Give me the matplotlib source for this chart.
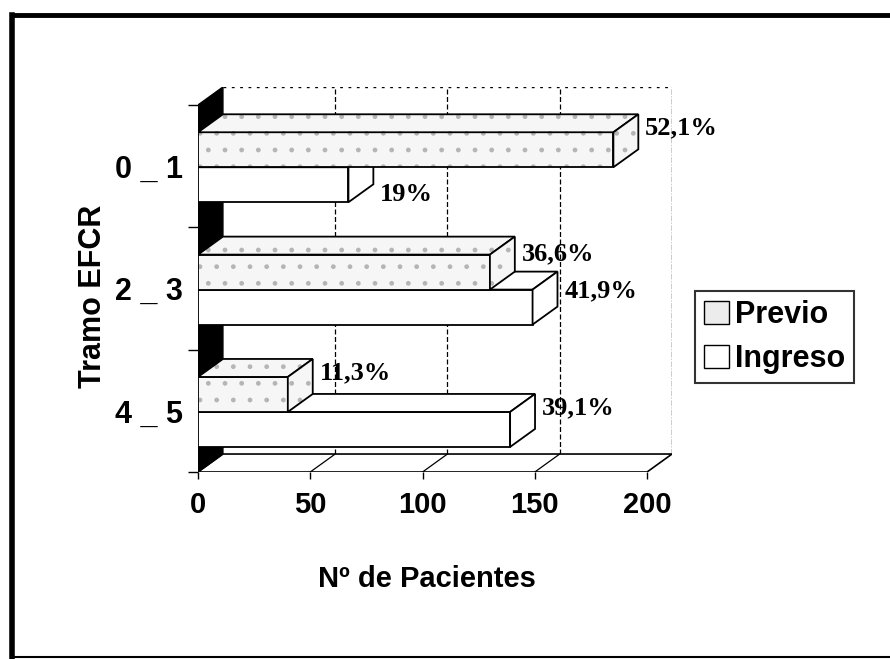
import matplotlib
matplotlib.use("Agg")
import matplotlib.pyplot as plt
from matplotlib.patches import Polygon, Patch
from matplotlib.lines import Line2D

# ---------------------------------------------------------------------------
# Data
# ---------------------------------------------------------------------------

CATEGORIES   = ["4 _ 5", "2 _ 3", "0 _ 1"]          # bottom -> top
PREVIO       = [40, 130, 185]
INGRESO      = [139, 149, 67]
PREVIO_PCT   = ["11,3%", "36,6%", "52,1%"]
INGRESO_PCT  = ["39,1%", "41,9%", "19%"]
X_TICKS      = [0, 50, 100, 150, 200]

# ---------------------------------------------------------------------------
# Style / fake-3D geometry
# ---------------------------------------------------------------------------

SANS   = "Liberation Sans"
SERIF  = "Liberation Serif"
DX     = 11.1      # depth offset in value units
DY     = 0.147     # depth offset in category units
BAR_H  = 0.286
BAR_Y0 = 0.205
XMAX   = 200
STIPPLE_FACE = "#f6f6f6"
STIPPLE_DOTS = "#b5b5b5"

# per-label nudges (category units) for the data labels
PREVIO_DY  = [0.03, 0.0, 0.03]
INGRESO_DY = [0.03, -0.01, -0.23]


def face(ax, pts, hatched, z):
    if hatched:
        ax.add_patch(Polygon(pts, closed=True, facecolor=STIPPLE_FACE,
                             edgecolor=STIPPLE_DOTS, lw=0, hatch=".", zorder=z))
        ax.add_patch(Polygon(pts, closed=True, facecolor="none",
                             edgecolor="black", lw=1.3, zorder=z))
    else:
        ax.add_patch(Polygon(pts, closed=True, facecolor="white",
                             edgecolor="black", lw=1.3, zorder=z))


def bar3d(ax, y0, v, hatched, z):
    y1 = y0 + BAR_H
    face(ax, [(0, y0), (v, y0), (v, y1), (0, y1)], hatched, z)
    face(ax, [(0, y1), (v, y1), (v + DX, y1 + DY), (DX, y1 + DY)], hatched, z)
    face(ax, [(v, y0), (v + DX, y0 + DY), (v + DX, y1 + DY), (v, y1)], hatched, z)


fig = plt.figure(figsize=(8.9, 6.59), dpi=100)
ax = fig.add_axes([198 / 890, 187 / 659, 474 / 890, 385 / 659])
ax.set_xlim(0, XMAX + DX)
ax.set_ylim(0, len(CATEGORIES) + DY)
for s in ax.spines.values():
    s.set_visible(False)

n = len(CATEGORIES)

# back wall + grid
ax.plot([DX, DX + XMAX], [n + DY, n + DY], color="black", lw=1, ls=(0, (2, 4)), zorder=1)
ax.plot([DX + XMAX, DX + XMAX], [DY, n + DY], color="black", lw=1, ls=(0, (4, 1, 1, 1)), zorder=1)
for t in X_TICKS[1:-1]:
    ax.plot([t + DX, t + DX], [DY, n + DY], color="black", lw=0.9, ls=(0, (4, 2)), zorder=1)

# floor
ax.add_patch(Polygon([(0, 0), (XMAX, 0), (XMAX + DX, DY), (DX, DY)], closed=True,
                     facecolor="white", edgecolor="black", lw=1.2, zorder=1))
for t in X_TICKS[1:-1]:
    ax.plot([t, t + DX], [0, DY], color="black", lw=0.9, zorder=1)

# dark left wall
ax.add_patch(Polygon([(0, 0), (DX, DY), (DX, n + DY), (0, n)], closed=True,
                     facecolor="black", edgecolor="black", lw=1, zorder=2))
ax.plot([0, 0], [0, n], color="black", lw=1.3, zorder=2)

# bars, bottom to top
for i in range(n):
    y_ing = i + BAR_Y0
    y_pre = y_ing + BAR_H
    bar3d(ax, y_ing, INGRESO[i], False, 3 + 2 * i)
    bar3d(ax, y_pre, PREVIO[i], True, 4 + 2 * i)
    ax.text(INGRESO[i] + DX + 3.0, y_ing + BAR_H / 2 + DY + INGRESO_DY[i], INGRESO_PCT[i],
            ha="left", va="center", fontsize=19, fontweight="bold", family=SERIF, zorder=20)
    ax.text(PREVIO[i] + DX + 3.0, y_pre + BAR_H / 2 + DY + PREVIO_DY[i], PREVIO_PCT[i],
            ha="left", va="center", fontsize=19, fontweight="bold", family=SERIF, zorder=20)

# axes ticks / labels
ax.set_xticks(X_TICKS)
ax.set_xticklabels([str(t) for t in X_TICKS], fontsize=21, fontweight="bold", family=SANS)
ax.tick_params(axis="x", direction="out", length=5, width=1, pad=9)
ax.set_yticks(range(n + 1))
ax.set_yticklabels([])
ax.set_yticks([i + 0.5 for i in range(n)], minor=True)
ax.set_yticklabels(CATEGORIES, minor=True, fontsize=22, fontweight="bold", family=SANS)
ax.tick_params(axis="y", which="major", direction="out", length=7, width=1)
ax.tick_params(axis="y", which="minor", length=0, pad=11)

ax.set_xlabel("Nº de Pacientes", fontsize=21, fontweight="bold", family=SANS)
ax.xaxis.set_label_coords(0.483, -0.242)
ax.set_ylabel("Tramo EFCR", fontsize=22, fontweight="bold", family=SANS)
ax.yaxis.set_label_coords(-0.19, 0.457)

# legend
handles = [Patch(facecolor="#ececec", edgecolor="black", lw=1),
           Patch(facecolor="white", edgecolor="black", lw=1)]
leg = fig.legend(handles, ["Previo", "Ingreso"], loc="upper left",
                 bbox_to_anchor=(695 / 890, 1 - 291 / 659), frameon=True, fancybox=False,
                 prop={"family": SANS, "weight": "bold", "size": 22},
                 handlelength=0.8, handleheight=0.8, handletextpad=0.2,
                 borderpad=0.3, labelspacing=0.45, borderaxespad=0)
leg.get_frame().set_edgecolor("black")
leg.get_frame().set_linewidth(1.5)

# scanned page frame
fig.add_artist(Line2D([12 / 890, 1], [1 - 15 / 659, 1 - 15 / 659], color="black", lw=3.5))
fig.add_artist(Line2D([12 / 890, 12 / 890], [2 / 659, 1 - 15 / 659], color="black", lw=4))
fig.add_artist(Line2D([12 / 890, 1], [2 / 659, 2 / 659], color="black", lw=1.5))

fig.savefig("out.png", dpi=100)
